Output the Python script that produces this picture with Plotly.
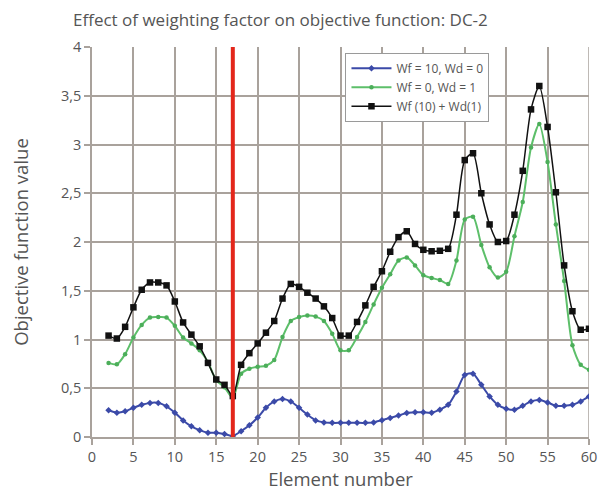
import plotly.graph_objects as go

elements = list(range(2, 61))

wf_only = [0.274, 0.25, 0.264, 0.30, 0.33, 0.35, 0.35, 0.315, 0.25, 0.17,
           0.11, 0.07, 0.044, 0.044, 0.03, 0.01, 0.06, 0.12, 0.20, 0.30,
           0.365, 0.39, 0.365, 0.30, 0.23, 0.17, 0.15, 0.145, 0.145, 0.145,
           0.145, 0.145, 0.15, 0.173, 0.196, 0.22, 0.247, 0.254, 0.254, 0.25,
           0.28, 0.33, 0.467, 0.636, 0.65, 0.535, 0.416, 0.33, 0.29, 0.28,
           0.32, 0.365, 0.38, 0.355, 0.32, 0.32, 0.33, 0.365, 0.416]

wd_only = [0.76, 0.745, 0.85, 1.02, 1.15, 1.225, 1.23, 1.225, 1.14, 1.02,
           0.96, 0.89, 0.77, 0.58, 0.51, 0.40, 0.65, 0.70, 0.72, 0.73,
           0.79, 1.025, 1.19, 1.23, 1.245, 1.235, 1.19, 1.06, 0.89, 0.89,
           1.025, 1.18, 1.36, 1.53, 1.67, 1.81, 1.84, 1.76, 1.66, 1.63,
           1.61, 1.57, 1.81, 2.23, 2.26, 1.97, 1.74, 1.635, 1.695, 2.06,
           2.41, 2.97, 3.21, 2.82, 2.18, 1.60, 0.94, 0.74, 0.69]

combined = [1.04, 1.01, 1.13, 1.33, 1.51, 1.585, 1.585, 1.555, 1.39, 1.175,
            1.05, 0.93, 0.76, 0.59, 0.535, 0.42, 0.74, 0.86, 0.96, 1.07,
            1.19, 1.42, 1.57, 1.54, 1.48, 1.42, 1.34, 1.22, 1.04, 1.04,
            1.18, 1.35, 1.54, 1.70, 1.90, 2.05, 2.11, 1.98, 1.92, 1.905,
            1.91, 1.93, 2.28, 2.84, 2.91, 2.50, 2.18, 2.00, 2.01, 2.28,
            2.73, 3.36, 3.60, 3.18, 2.51, 1.76, 1.29, 1.10, 1.11]

series_names = ["Wf = 10, Wd = 0", "Wf = 0, Wd = 1", "Wf (10) + Wd(1)"]
split_element = 17

x_ticks = list(range(0, 61, 5))
y_ticks = [0, 0.5, 1, 1.5, 2, 2.5, 3, 3.5, 4]
y_tick_labels = ["0", "0,5", "1", "1,5", "2", "2,5", "3", "3,5", "4"]

FONT = "Open Sans"
TXT = "#555555"
GRID = "#a9a29c"

fig = go.Figure()

fig.add_trace(go.Scatter(
    x=elements, y=wf_only, name=series_names[0], mode="lines+markers",
    line=dict(color="#3b4aa8", width=2, shape="spline", smoothing=0.7),
    marker=dict(color="#3b4aa8", size=5, symbol="diamond"),
))
fig.add_trace(go.Scatter(
    x=elements, y=wd_only, name=series_names[1], mode="lines+markers",
    line=dict(color="#5dbf6a", width=2, shape="spline", smoothing=0.7),
    marker=dict(color="#4cae5a", size=4.5, symbol="circle"),
))
fig.add_trace(go.Scatter(
    x=elements, y=combined, name=series_names[2], mode="lines+markers",
    line=dict(color="#111111", width=1.5, shape="spline", smoothing=0.7),
    marker=dict(color="#111111", size=6.5, symbol="square"),
))

# right-edge gridline at x = 60
fig.add_shape(type="line", x0=60, x1=60, y0=0, y1=4, xref="x", yref="y",
              layer="below", line=dict(color=GRID, width=1.5))
fig.add_shape(type="line", x0=split_element, x1=split_element, y0=0, y1=4,
              xref="x", yref="y", line=dict(color="#e3271b", width=4))

fig.update_layout(
    width=609, height=499,
    margin=dict(l=92, r=12, t=47, b=57),
    paper_bgcolor="white", plot_bgcolor="white",
    font=dict(family=FONT, color=TXT, size=14),
    title=dict(text="Effect of weighting factor on objective function: DC-2",
               x=73/609, xanchor="left", xref="container",
               y=1 - 20/499, yanchor="middle", yref="container",
               font=dict(family=FONT, size=17, color=TXT)),
    legend=dict(x=0.51, y=0.985, xanchor="left", yanchor="top",
                bgcolor="white", bordercolor="#9a9a9a", borderwidth=1,
                font=dict(family=FONT, size=12, color=TXT),
                tracegroupgap=0, itemwidth=40),
    showlegend=True,
)

fig.update_xaxes(
    range=[0, 60], tickvals=x_ticks, ticktext=[str(v) for v in x_ticks],
    showgrid=True, gridcolor=GRID, gridwidth=1.5,
    showline=True, linecolor=GRID, linewidth=1.5,
    ticks="outside", ticklen=6, tickcolor=GRID, tickwidth=1.5,
    zeroline=False,
    title=dict(text="Element number", font=dict(family=FONT, size=18.5, color=TXT), standoff=8),
    tickfont=dict(family=FONT, size=14.5, color=TXT),
)
fig.update_yaxes(
    range=[0, 4], tickvals=y_ticks, ticktext=y_tick_labels,
    showgrid=True, gridcolor=GRID, gridwidth=1.5,
    showline=True, linecolor=GRID, linewidth=1.5,
    ticks="outside", ticklen=6, tickcolor=GRID, tickwidth=1.5,
    zeroline=False,
    title=dict(text="Objective function value", font=dict(family=FONT, size=18.5, color=TXT), standoff=28),
    tickfont=dict(family=FONT, size=14.5, color=TXT),
)

fig.write_html("out.html", config={"displayModeBar": False},
               post_script="document.body.style.margin='0';document.body.style.padding='0';")
